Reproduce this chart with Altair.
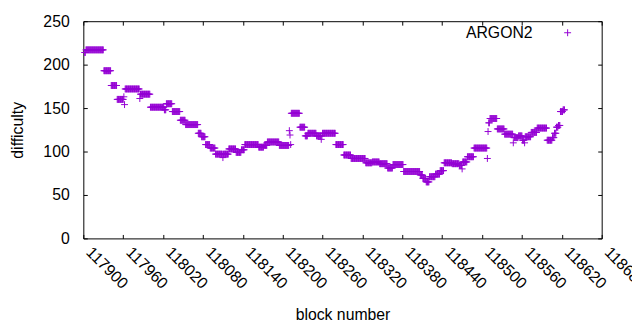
import altair as alt
import pandas as pd

# Difficulty plateaus: block where each level starts, and its value
run_start = [117902, 117904, 117931, 117942, 117951, 117961, 117962, 117963, 117985, 117986,
             118001, 118022, 118025, 118034, 118046, 118054, 118073, 118078, 118084, 118091,
             118099, 118110, 118111, 118119, 118130, 118138, 118143, 118164, 118172, 118177,
             118195, 118210, 118211, 118212, 118213, 118226, 118234, 118238, 118251, 118258,
             118259, 118260, 118280, 118292, 118303, 118325, 118335, 118346, 118358, 118366,
             118382, 118407, 118411, 118416, 118421, 118430, 118437, 118443, 118455, 118466,
             118470, 118471, 118478, 118488, 118508, 118509, 118510, 118512, 118523, 118534,
             118547, 118548, 118555, 118561, 118564, 118565, 118574, 118583, 118598, 118606,
             118609, 118612, 118615, 118618, 118622]
run_value = [214, 217, 193, 176, 160, 163, 154, 172, 161, 166,
             151, 148, 155, 146, 136, 131, 121, 117, 108, 104,
             97, 93, 97, 103, 99, 102, 108, 105, 107, 111,
             107, 124, 119, 108, 144, 128, 118, 121, 118, 114,
             118, 121, 108, 96, 92, 87, 88, 86, 81, 85,
             77, 73, 69, 65, 71, 74, 78, 87, 86, 84,
             80, 88, 94, 104, 92, 123, 133, 138, 126, 120,
             110, 116, 118, 113, 110, 117, 122, 127, 113, 116,
             121, 128, 130, 146, 148]
last_block = 118624

x_ticks = [117900, 117960, 118020, 118080, 118140, 118200, 118260, 118320,
           118380, 118440, 118500, 118560, 118620, 118680]
y_ticks = [0, 50, 100, 150, 200, 250]
series_name = "ARGON2"

rows = []
for i, s in enumerate(run_start):
    e = run_start[i + 1] - 1 if i + 1 < len(run_start) else last_block
    for b in range(s, e + 1):
        rows.append({"block": b, "difficulty": run_value[i], "series": series_name})
df = pd.DataFrame(rows)

FONT = "Liberation Sans"
FS = 16
PURPLE = "#9400D3"
PLUS = "M-1,0L1,0M0,-1L0,1"

xscale = alt.Scale(domain=[117900, 118680], nice=False, zero=False)
yscale = alt.Scale(domain=[0, 250], nice=False, zero=True)

common_axis = dict(domain=False, grid=False, tickSize=4, offset=-4, tickColor="black",
                   tickWidth=1, labelFont=FONT, labelFontSize=FS, labelColor="black",
                   titleFont=FONT, titleFontSize=FS, titleFontWeight="normal", titleColor="black")

points = alt.Chart(df).mark_point(shape=PLUS, filled=False, size=49, strokeWidth=1,
                                  opacity=1).encode(
    x=alt.X("block:Q", scale=xscale,
            axis=alt.Axis(orient="bottom", values=x_ticks, format="d", labelAngle=45,
                          labelAlign="left", labelBaseline="middle", labelPadding=11,
                          labelOffset=5,
                          title="block number", titlePadding=16, labelOverlap=False,
                          labelFlush=False, **common_axis)),
    y=alt.Y("difficulty:Q", scale=yscale,
            axis=alt.Axis(orient="left", values=y_ticks, labelPadding=14.3,
                          title="difficulty", titlePadding=18, **common_axis)),
    color=alt.Color("series:N", scale=alt.Scale(domain=[series_name], range=[PURPLE]),
                    legend=alt.Legend(orient="none", legendX=387.5, legendY=3.7,
                                      title=series_name, titleOrient="left",
                                      titleBaseline="middle", titlePadding=27,
                                      titleFont=FONT, titleFontSize=FS,
                                      titleFontWeight="normal", titleColor="black",
                                      padding=0, symbolType=PLUS, symbolSize=49,
                                      symbolStrokeWidth=1, symbolFillColor="transparent",
                                      labelExpr="''", labelFont=FONT, labelFontSize=FS)),
)

mirror = alt.Chart(df).mark_point(opacity=0).encode(
    x=alt.X("block:Q", scale=xscale,
            axis=alt.Axis(orient="top", values=x_ticks, labels=False, title=None, **common_axis)),
    y=alt.Y("difficulty:Q", scale=yscale,
            axis=alt.Axis(orient="right", values=y_ticks, labels=False, title=None, **common_axis)),
)

chart = alt.layer(points, mirror).resolve_axis(x="independent", y="independent").properties(
    width=525, height=220,
    autosize=alt.AutoSizeParams(type="none"),
    padding={"left": 76.3, "top": 11.3, "right": 30.7, "bottom": 90.7},
    background="white",
).configure_view(stroke="black", strokeWidth=1)

chart.save("out.html", embed_options={"renderer": "svg", "actions": False})
